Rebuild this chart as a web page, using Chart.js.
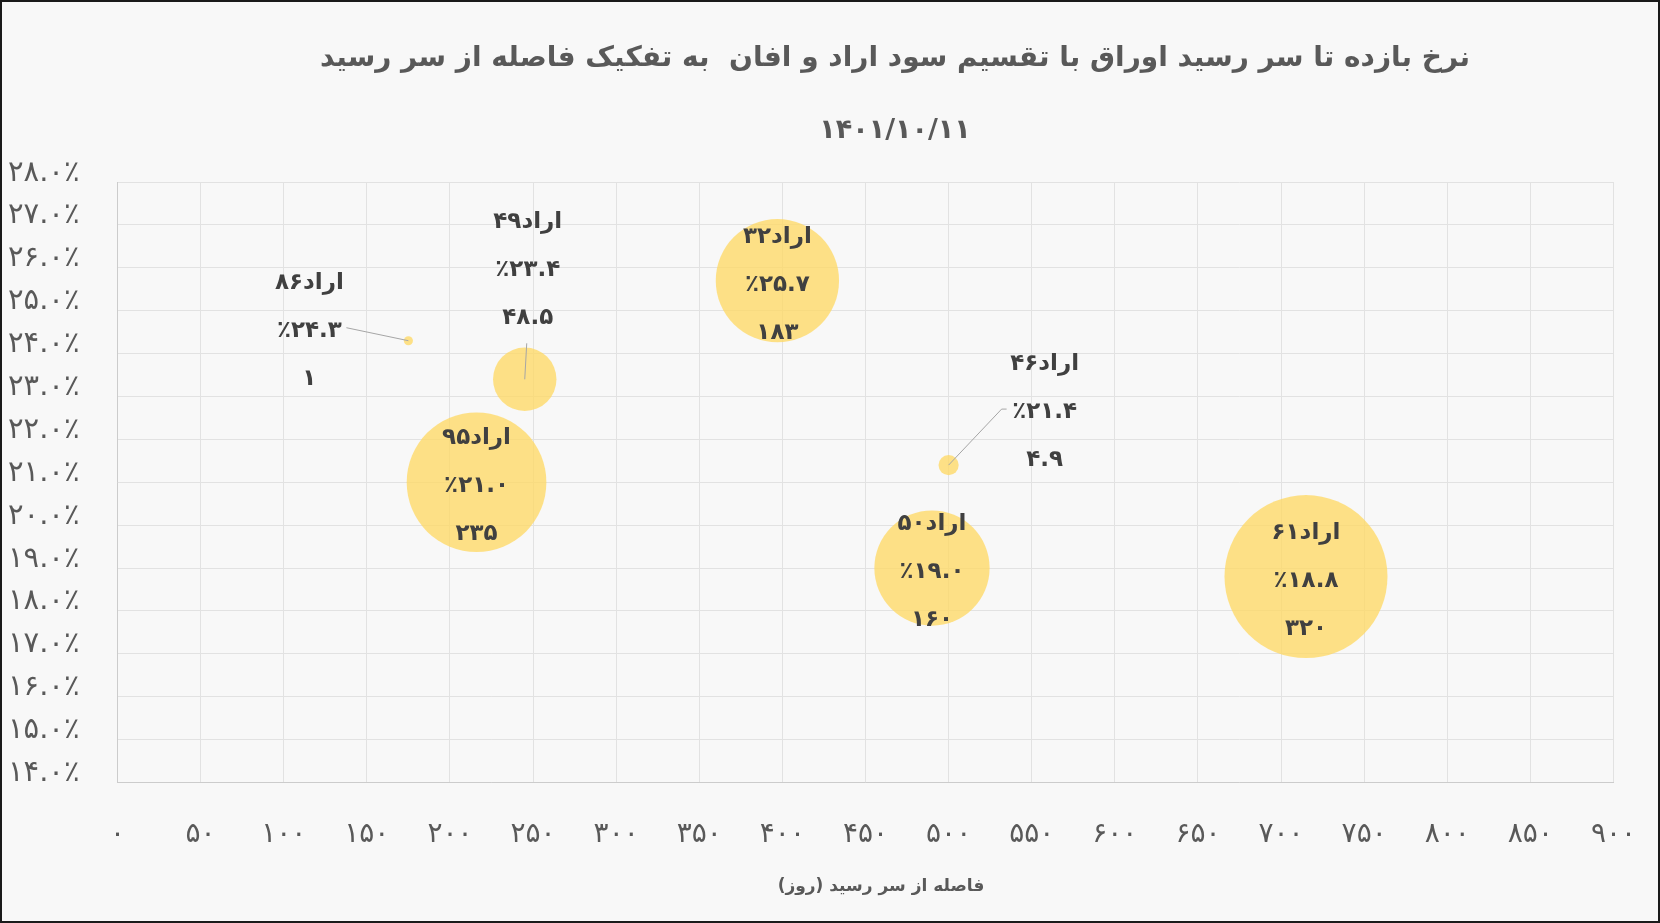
<!DOCTYPE html>
<html>
<head>
<meta charset="utf-8">
<script src="https://cdn.jsdelivr.net/npm/chart.js@4.4.1/dist/chart.umd.min.js"></script>
<style>
  body { margin: 0; background: #f8f8f8; }
  #wrap { width: 1660px; height: 923px; }
</style>
</head>
<body>
<div id="wrap"><canvas id="myChart" width="1660" height="923"></canvas></div>
<script>
// data
const bondNames = ["اراد۸۶", "اراد۴۹", "اراد۹۵", "اراد۳۲", "اراد۴۶", "اراد۵۰", "اراد۶۱"];
const daysToMaturity = [175, 245, 216, 397, 500, 490, 715];
const ytmPercent = [24.3, 23.4, 21.0, 25.7, 21.4, 19.0, 18.8];
const bubbleSize = [1, 48.5, 235, 183, 4.9, 160, 320];

const chartTitle = "نرخ بازده تا سر رسید اوراق با تقسیم سود اراد و افان  به تفکیک فاصله از سر رسید";
const chartDate = "۱۴۰۱/۱۰/۱۱";
const xAxisTitle = "فاصله از سر رسید (روز)";

// label placement (offset of the label block from the bubble) and leader start
const labelOffsets = [[-99, -14], [3, -113], [0, 0], [0, 0], [96, -57], [0, 0], [0, 0]];
const leaderStart = [[37, 1], [-1, 77], null, null, [-38, 1], null, null];

const FONT = "'DejaVu Sans', sans-serif";
const faDigits = "۰۱۲۳۴۵۶۷۸۹";
function fa(v) {
  return String(v).replace(/\d/g, (d) => faDigits[d]);
}

// excel style bubble: area follows size
const bubbleScale = 4.556;
let points = [];
for (let i = 0; i < bondNames.length; i++) {
  points.push({
    x: daysToMaturity[i],
    y: ytmPercent[i],
    r: bubbleScale * Math.sqrt(bubbleSize[i]),
  });
}

const textsPlugin = {
  id: "texts",
  beforeDraw(chart) {
    const ctx = chart.ctx;
    ctx.save();
    ctx.fillStyle = "#f8f8f8";
    ctx.fillRect(0, 0, chart.width, chart.height);
    ctx.restore();
  },
  afterDatasetsDraw(chart) {
    const ctx = chart.ctx;
    const meta = chart.getDatasetMeta(0);
    ctx.save();

    // leader lines
    ctx.strokeStyle = "#a6a6a6";
    ctx.lineWidth = 1;
    for (let i = 0; i < meta.data.length; i++) {
      if (!leaderStart[i]) continue;
      let p = meta.data[i];
      let lx = p.x + labelOffsets[i][0];
      let ly = p.y + labelOffsets[i][1];
      let sx = lx + leaderStart[i][0];
      let sy = ly + leaderStart[i][1];
      ctx.beginPath();
      ctx.moveTo(sx, sy);
      if (i == 4) {
        sx -= 5;
        ctx.lineTo(sx, sy);
      }
      ctx.lineTo(p.x, p.y);
      ctx.stroke();
    }

    // data labels: name, rate, size
    ctx.fillStyle = "#404040";
    ctx.font = "bold 23px " + FONT;
    ctx.textAlign = "center";
    ctx.textBaseline = "middle";
    for (let i = 0; i < meta.data.length; i++) {
      let p = meta.data[i];
      let lx = p.x + labelOffsets[i][0];
      let ly = p.y + labelOffsets[i][1] + 4;
      ctx.direction = "rtl";
      ctx.fillText(bondNames[i], lx, ly - 48);
      ctx.direction = "ltr";
      ctx.fillText("٪" + fa(ytmPercent[i].toFixed(1)), lx, ly);
      ctx.fillText(fa(bubbleSize[i]), lx, ly + 48);
    }

    // titles
    ctx.fillStyle = "#595959";
    ctx.direction = "rtl";
    ctx.font = "bold 28px " + FONT;
    ctx.fillText(chartTitle, 895, 59);
    ctx.font = "bold 27px " + FONT;
    ctx.fillText(chartDate, 895, 131);
    ctx.font = "bold 17px " + FONT;
    ctx.fillText(xAxisTitle, 881, 887);

    // frame
    ctx.strokeStyle = "#1a1a1a";
    ctx.lineWidth = 2;
    ctx.strokeRect(1, 1, chart.width - 2, chart.height - 2);
    ctx.restore();
  },
};

const ctx = document.getElementById("myChart").getContext("2d");
new Chart(ctx, {
  type: "bubble",
  data: {
    datasets: [
      {
        label: "YTM",
        data: points,
        backgroundColor: "rgba(255, 216, 96, 0.75)",
        borderWidth: 0,
        hoverBorderWidth: 0,
      },
    ],
  },
  options: {
    responsive: false,
    animation: false,
    events: [],
    layout: {
      autoPadding: false,
      padding: { top: 182, right: 46.5, left: 0, bottom: 0 },
    },
    plugins: {
      legend: { display: false },
      tooltip: { enabled: false },
    },
    scales: {
      x: {
        type: "linear",
        min: 0,
        max: 900,
        afterFit: (scale) => {
          scale.height = 140.5;
          scale.paddingLeft = 0;
          scale.paddingRight = 0;
        },
        ticks: {
          stepSize: 50,
          autoSkip: false,
          maxRotation: 0,
          padding: 35,
          color: "#595959",
          font: { family: FONT, size: 28 },
          callback: (v) => fa(v),
        },
        grid: { color: "#e2e2e2", drawTicks: false },
        border: { color: "#cccccc" },
      },
      y: {
        min: 14,
        max: 28,
        afterFit: (scale) => {
          scale.width = 117.5;
          scale.paddingTop = 0;
          scale.paddingBottom = 0;
        },
        ticks: {
          stepSize: 1,
          padding: 38,
          labelOffset: -9,
          color: "#595959",
          font: { family: FONT, size: 29 },
          callback: (v) => fa(v.toFixed(1)) + "٪",
        },
        grid: { color: "#e2e2e2", drawTicks: false },
        border: { color: "#cccccc" },
      },
    },
  },
  plugins: [textsPlugin],
});
</script>
</body>
</html>
